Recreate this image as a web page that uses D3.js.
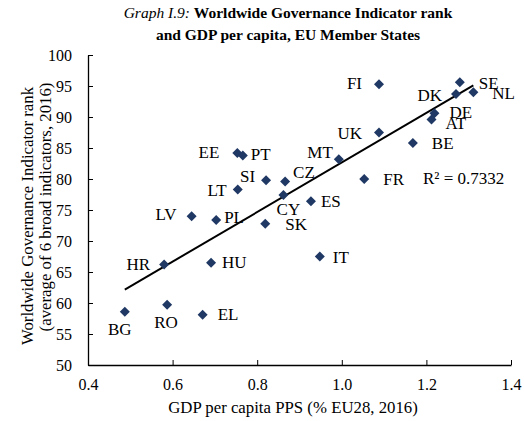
<!DOCTYPE html>
<html><head><meta charset="utf-8">
<script src="https://cdn.jsdelivr.net/npm/d3@7/dist/d3.min.js"></script>
<style>
body{margin:0;background:#fff;}
text{font-family:"Liberation Serif","Times New Roman",serif;fill:#000;}
</style></head>
<body><svg id="c" width="524" height="421"></svg>
<script>
// ---- data ----
const countries = ["BG","RO","EL","HR","HU","LV","PL","LT","SI","CZ","CY","SK","ES","IT","EE","PT","MT","FR","UK","BE","FI","DE","AT","DK","SE","NL"];
const gdpPPS   = [0.487,0.587,0.671,0.580,0.691,0.645,0.703,0.754,0.821,0.866,0.862,0.819,0.927,0.948,0.753,0.766,0.993,1.053,1.088,1.168,1.088,1.219,1.212,1.270,1.279,1.311];
const wgiRank  = [58.6,59.7,58.1,66.2,66.5,74.0,73.4,78.3,79.8,79.6,77.4,72.8,76.4,67.5,84.2,83.8,83.2,80.0,87.5,85.8,95.3,90.6,89.6,93.7,95.6,94.0];
const xTicks = [0.4,0.6,0.8,1.0,1.2,1.4];
const yTicks = [50,55,60,65,70,75,80,85,90,95,100];
const r2Label = "R\u00B2 = 0.7332";

// label placement (layout only): [anchor, dx, dy]
const labelPos = {
  BG:["middle",-5,23], RO:["middle",-1,23], EL:["start",15,5], HR:["end",-14,5], HU:["start",11,5],
  LV:["end",-15,4], PL:["start",8,3], LT:["end",-11,6], SI:["end",-11,2], CZ:["start",8,-3],
  CY:["middle",5,20], SK:["start",20,6], ES:["start",10,6], IT:["start",13,6], EE:["end",-18,5],
  PT:["start",8,5], MT:["end",-6,-1], FR:["start",19,6], UK:["end",-17,6], BE:["start",19,6],
  FI:["end",-17,5], DE:["start",15,5], AT:["start",14,10], DK:["end",-14,7], SE:["start",19,7], NL:["start",19,7]
};

const svg = d3.select("#c");
const x = d3.scaleLinear().domain([0.4,1.4]).range([88,511]);
const y = d3.scaleLinear().domain([50,100]).range([365,55]);

// title
const t = svg.append("text").attr("x",288).attr("y",18).attr("text-anchor","middle").style("font-size","15.5px");
t.append("tspan").style("font-style","italic").text("Graph I.9: ");
t.append("tspan").style("font-weight","bold").text("Worldwide Governance Indicator rank");
svg.append("text").attr("x",288).attr("y",40).attr("text-anchor","middle").style("font-size","15.5px").style("font-weight","bold")
  .text("and GDP per capita, EU Member States");

// axes
const xAxis = d3.axisBottom(x).tickValues(xTicks).tickFormat(d3.format(".1f")).tickSizeInner(-5).tickSizeOuter(0).tickPadding(14);
const gx = svg.append("g").attr("transform","translate(0,365)").call(xAxis);
const yAxis = d3.axisLeft(y).tickValues(yTicks).tickFormat(d3.format("d")).tickSizeInner(-5).tickSizeOuter(0).tickPadding(16);
const gy = svg.append("g").attr("transform","translate(88,0)").call(yAxis);
[gx,gy].forEach(g=>{
  g.select(".domain").attr("stroke","#000").attr("stroke-width",1.3);
  g.selectAll(".tick line").attr("stroke","#000").attr("stroke-width",1);
  g.selectAll(".tick text").style("font-family","'Liberation Serif',serif").style("font-size","16px").attr("fill","#000");
});

// axis titles
svg.append("text").attr("x",293).attr("y",413).attr("text-anchor","middle").style("font-size","16.8px")
  .text("GDP per capita PPS (% EU28, 2016)");
svg.append("text").attr("transform","translate(33,216) rotate(-90)").attr("text-anchor","middle").style("font-size","16.8px")
  .text("Worldwide Governance Indicator rank");
svg.append("text").attr("transform","translate(51,207) rotate(-90)").attr("text-anchor","middle").style("font-size","16.8px")
  .text("(average of 6 broad indicators, 2016)");

// trend line (least squares from data)
const n = gdpPPS.length;
const mx = d3.mean(gdpPPS), my = d3.mean(wgiRank);
let sxy=0,sxx=0; for(let i=0;i<n;i++){sxy+=(gdpPPS[i]-mx)*(wgiRank[i]-my); sxx+=(gdpPPS[i]-mx)**2;}
const b = sxy/sxx, a = my - b*mx;
const x0 = d3.min(gdpPPS), x1 = d3.max(gdpPPS);
svg.append("line").attr("x1",x(x0)).attr("y1",y(a+b*x0)).attr("x2",x(x1)).attr("y2",y(a+b*x1))
  .attr("stroke","#000").attr("stroke-width",2);

// points
const data = countries.map((c,i)=>({c, gx:gdpPPS[i], wy:wgiRank[i]}));
svg.append("g").selectAll("path").data(data).join("path")
  .attr("transform",d=>`translate(${x(d.gx)},${y(d.wy)})`)
  .attr("d","M0,-5L5,0L0,5L-5,0Z").attr("fill","#1f3864");

// labels
svg.append("g").selectAll("text").data(data).join("text")
  .attr("x",d=>x(d.gx)+labelPos[d.c][1]).attr("y",d=>y(d.wy)+labelPos[d.c][2])
  .attr("text-anchor",d=>labelPos[d.c][0]).style("font-size","17px").text(d=>d.c);

svg.append("text").attr("x",423).attr("y",184).style("font-size","17px").text(r2Label);
</script></body></html>
